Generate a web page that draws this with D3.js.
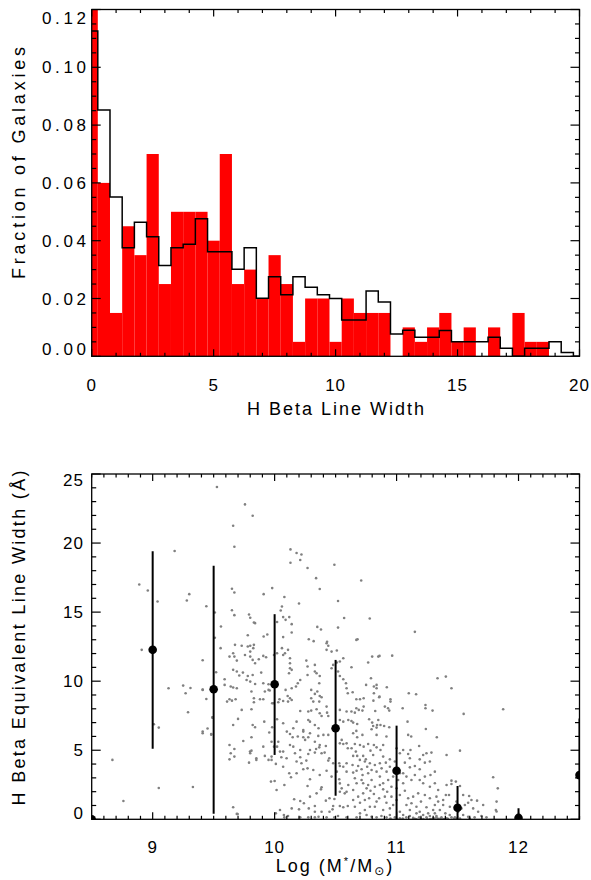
<!DOCTYPE html>
<html><head><meta charset="utf-8">
<script src="https://cdn.jsdelivr.net/npm/d3@7"></script>
<style>html,body{margin:0;padding:0;background:#fff;}svg{display:block;}</style>
</head><body>
<script>
// ---------- DATA ----------
const binCenters = d3.range(0, 20.01, 0.5);
const redFractions = [0.12,0.06,0.015,0.045,0.035,0.07,0.025,0.05,0.05,0.05,0.04,0.07,0.025,0.03,0.02,0.035,0.025,0.005,0.02,0.02,0.005,0.02,0.015,0.015,0.015,0,0.01,0.005,0.01,0.015,0.005,0.01,0,0.01,0,0.015,0.005,0.005,0,0,0];
const allFractions = [0.1126,0.0852,0.0551,0.0376,0.0464,0.0414,0.0314,0.0376,0.0388,0.0476,0.0362,0.0362,0.0301,0.0376,0.0201,0.0275,0.0213,0.0275,0.0239,0.0213,0.02,0.0126,0.0126,0.0226,0.0188,0.0077,0.009,0.0066,0.0066,0.0089,0.005,0.005,0.005,0.0066,0.0028,0,0.0028,0.0028,0.005,0.0013,0];
const topXTicks = [0,5,10,15,20];
const topYTicks = [0,0.02,0.04,0.06,0.08,0.10,0.12];

const binMass = [8.5,9.0,9.5,10.0,10.5,11.0,11.5,12.0,12.5];
const binMedian = [0,12.27,9.42,9.78,6.59,3.52,0.84,0.1,3.2];
const binHigh = [0,19.4,18.35,14.85,11.54,6.78,2.41,0.8,7.3];
const binLow = [0,5.1,0.4,4.66,1.71,0,0,0,-1];
const botXTicks = [9,10,11,12];
const botYTicks = [0,5,10,15,20,25];

const galaxyPoints = [
[9.527,24.06],[9.757,22.8],[9.82,21.98],[9.66,21.25],[9.67,19.73],[9.18,19.42],[10.13,19.54],[10.18,19.28],[10.22,19.17],[10.13,18.57],[10.21,18.77],[10.27,18.19],[10.49,18.43],[10.34,17.46],[10.71,17.29],[10.37,16.67],[8.89,17.0],[8.96,16.57],[9.04,15.77],[9.28,15.84],[9.30,16.3],[9.44,15.43],[9.65,16.69],[9.67,16.42],[9.91,16.3],[9.98,16.74],[10.08,16.09],[10.20,15.62],[10.52,15.8],[9.65,15.14],[9.67,14.78],[9.51,14.97],[9.56,13.96],[9.51,13.14],[9.79,14.83],[9.80,14.59],[9.83,14.25],[9.84,14.2],[9.78,13.33],[9.91,13.23],[9.94,13.38],[10.02,14.28],[10.05,15.12],[10.06,15.41],[10.07,14.64],[10.09,14.44],[10.12,14.64],[10.14,14.13],[10.14,13.52],[10.07,13.19],[10.28,13.04],[10.32,12.9],[10.35,13.93],[10.38,13.74],[10.43,12.85],[10.52,13.88],[10.57,14.57],[10.68,13.04],[10.78,14.54],[11.15,13.57],
[8.91,12.27],[9.13,9.49],[9.25,9.68],[9.27,9.13],[9.31,9.51],[9.29,7.75],[9.01,6.88],[9.05,6.64],[8.67,4.3],[9.05,2.27],[8.76,1.33],[9.33,2.34],[9.41,11.52],[9.41,9.39],[9.41,6.23],[9.45,6.57],[9.48,6.13],[9.49,7.36],
[9.557,12.39],[9.675,12.63],[9.73,12.56],[9.78,12.51],[9.80,12.56],[9.83,12.63],[9.825,12.39],[9.66,12.02],[9.63,11.78],[9.67,11.78],[9.757,11.9],[9.80,12.14],[9.80,11.78],[9.82,11.54],[9.84,11.30],[9.87,11.59],[9.907,11.83],[9.93,11.73],[9.69,11.49],[9.52,10.65],[9.66,10.82],[9.69,10.7],[9.74,10.62],[9.71,10.41],[9.78,10.38],[9.82,10.45],[9.89,10.62],[9.80,9.97],[9.77,10.09],[9.59,10.14],[9.59,9.73],[9.64,9.61],[9.66,9.54],[9.69,9.49],[9.84,9.8],[9.907,9.85],[9.95,9.78],[9.44,8.71],[9.41,9.37],[9.61,8.52],[9.63,8.69],[9.65,8.59],[9.68,8.69],[9.73,7.92],[9.81,9.25],[9.83,8.76],[9.83,8.47],[9.88,8.69],[9.907,8.69],[9.92,9.25],[9.95,9.37],[9.96,9.32],[9.98,8.40],[9.81,7.97],[9.70,7.27],[9.66,6.83],[9.915,7.07],[9.82,6.83],[9.84,6.66],[9.98,6.66],[10.02,7.24],[9.49,7.39],
[9.995,11.9],[10.02,12.02],[10.06,12.39],[10.07,11.9],[10.085,12.02],[10.11,12.27],[10.126,11.66],[10.126,11.3],[10.126,10.94],[10.14,10.82],[10.118,10.57],[10.26,11.49],[10.27,11.06],[10.33,11.18],[10.33,10.7],[10.344,10.57],[10.37,10.38],[10.366,9.85],[10.27,10.45],[10.21,10.09],[10.19,9.85],[10.175,9.61],[10.14,9.49],[10.426,12.75],[10.44,12.56],[10.426,12.27],[10.467,12.14],[10.51,12.22],[10.563,11.66],[10.535,11.42],[10.51,11.35],[10.48,11.18],[10.467,10.94],[10.52,10.7],[10.535,10.38],[10.563,10.14],[10.585,9.85],[10.59,9.49],[10.6,9.13],[10.09,9.37],[10.107,8.93],[10.126,8.76],[10.14,8.64],[10.11,8.52],[10.07,8.57],[10.04,8.69],[10.03,8.47],[9.99,8.40],[10.3,9.37],[10.35,9.25],[10.33,9.08],[10.37,8.93],[10.3,8.76],[10.317,8.52],[10.366,8.52],[10.385,8.84],[10.21,7.84],[10.276,7.8],[10.3,7.87],[10.344,7.97],[10.37,7.68],[10.426,8.16],[10.43,7.72],[10.44,7.48],[10.385,7.48],[10.07,6.95],[10.18,7.07],[10.276,7.19],[10.29,7.07],[10.33,6.83],[10.36,6.59],[10.235,6.47],[10.153,6.59],[10.535,7.92],[10.535,7.19],[10.563,7.07],[10.59,7.8],[10.604,7.19],
[10.67,12.99],[10.80,11.78],[10.85,11.78],[10.86,11.83],[10.964,11.85],[10.767,11.35],[10.63,11.01],[10.79,10.21],[10.75,9.73],[10.814,9.61],[10.836,9.73],[10.836,9.49],[10.92,9.56],[10.64,9.2],[10.814,9.13],[10.86,8.88],[10.857,8.84],[10.95,8.69],[10.95,8.52],[10.81,8.59],[10.67,8.69],[10.70,8.69],[10.73,8.76],[11.1,9.13],[11.16,9.05],[11.336,10.21],[11.404,10.33],[11.45,9.49],[10.67,8.04],[10.69,7.92],[10.72,7.87],[10.73,8.16],[10.825,7.84],[10.904,8.16],[10.93,8.04],[10.94,7.87],[11.05,8.04],[11.237,8.28],[11.237,8.04],[11.295,7.87],[11.55,7.63],[10.63,7.8],[10.658,7.72],[10.63,7.12],[10.644,7.0],[10.677,6.9],[10.775,7.24],[10.8,7.0],[10.808,6.76],[10.85,7.19],[10.84,6.83],[10.868,6.83],[10.898,6.76],[10.94,6.66],[10.795,6.52],[10.836,6.64],[11.09,7.07],[11.24,6.54],[10.67,6.4],[11.874,7.97],
[9.48,6.18],[9.41,6.35],[9.743,5.67],[9.81,5.94],[9.63,5.38],[9.67,5.09],[9.63,4.34],[9.67,4.54],[9.79,4.1],[9.80,4.78],[9.798,4.9],[9.81,4.97],[9.85,4.42],[9.85,4.3],[9.907,5.26],[9.92,4.59],[9.95,4.3],[9.975,4.54],[9.975,4.3],[10.01,4.01],[9.956,6.28],[9.975,5.62],[9.995,5.26],[10.03,5.62],[10.02,5.26],[10.044,4.9],[10.07,4.9],[10.055,4.49],[10.1,6.35],[10.126,6.18],[10.148,5.94],[10.19,5.99],[10.235,6.35],[10.235,5.94],[10.25,5.75],[10.276,5.94],[10.126,5.38],[10.153,5.26],[10.21,4.49],[10.18,4.18],[10.22,4.06],[10.235,3.62],[10.27,3.69],[10.26,4.25],[10.276,4.73],[10.29,5.02],[10.33,4.83],[10.34,5.09],[10.366,5.21],[10.385,4.78],[10.37,5.38],[10.358,6.04],[10.4,6.11],[10.44,6.11],[10.42,5.31],[10.44,4.25],[10.448,4.42],[10.41,4.83],[10.426,3.52],[10.48,4.06],[10.535,5.5],[10.55,5.75],[10.563,5.45],[10.59,5.5],[10.6,5.14],[10.53,4.06],[10.535,3.86],[10.563,3.81],[10.59,4.06],[10.59,3.45],[10.604,2.48],[10.53,2.9],[10.535,2.6],[10.55,2.24],[10.535,2.0],[10.59,2.0],[10.575,1.88],[10.12,3.33],[10.134,3.04],[10.08,2.48],[9.97,2.73],[10.0,2.77],[10.29,2.9],[10.27,2.41],[10.385,2.32],[10.38,2.17],[10.42,1.35],[10.45,1.52],[10.49,1.47],[10.16,1.45],[10.21,1.32],[10.24,1.16],[10.2,0.72],[10.28,0.79],[10.33,0.96],[10.48,0.96],[10.475,0.72],[10.535,0.96],[10.563,0.87],[10.6,0.96],[10.385,0.55],[10.45,0.55],[9.66,0.87],[9.697,0.38],[10.01,0.43],[10.076,0.31],[10.11,0.24],[10.08,0.14],[10.276,0.14],[10.33,0.14],[10.36,0.19],[10.426,0.14],[10.49,0.14],[10.52,0.24],[10.59,0.14],[10.21,0.14],[9.64,4.78],[9.69,0.39],
[10.29,6.23],[10.33,5.62],[10.21,5.02],[10.167,4.78],[10.098,4.42],[10.07,3.81],[10.18,3.33],[10.317,3.57],[10.37,3.21],[10.467,3.09],[10.51,3.45],[10.344,1.88],[10.29,1.64],[10.33,0.55],[10.14,0.79],[10.044,0.67],[10.016,2.12],
[10.644,6.23],[10.72,6.11],[10.677,5.94],[10.836,6.11],[10.917,5.99],[11.095,6.11],[11.12,5.99],[11.33,5.94],[10.658,5.45],[10.7,5.38],[10.73,5.26],[10.767,5.45],[10.814,5.38],[10.836,5.21],[10.868,5.02],[10.786,4.97],[10.89,5.38],[11.0,5.14],[11.054,5.02],[11.114,5.02],[11.185,5.31],[11.027,4.78],[11.095,4.73],[10.945,4.34],[10.986,4.18],[10.644,4.59],[10.677,4.59],[10.726,4.59],[10.748,4.34],[10.808,4.66],[10.89,4.54],[10.912,4.1],[10.863,4.06],[10.822,3.93],[10.759,3.81],[10.713,3.62],[10.672,3.52],[10.644,3.38],[11.109,4.42],[11.068,4.1],[11.109,3.76],[11.054,3.33],[11.15,3.86],[11.19,4.34],[11.218,4.66],[11.245,4.78],[11.286,4.83],[11.273,4.18],[11.232,4.1],[11.314,3.45],[11.278,3.21],[11.232,3.09],[11.19,3.62],[11.41,4.66],[11.52,4.97],[11.792,3.04],[11.83,2.24],[11.41,2.48],[11.45,2.56],[11.45,2.8],[11.486,2.73],[11.52,2.41],[11.43,1.76],[11.404,1.76],[11.546,1.76],[11.595,1.69],[11.614,1.4],[11.66,1.35],[11.71,1.04],[11.587,1.2],[11.56,1.04],[11.814,0.67],[11.505,0.55],[11.436,0.31],[10.672,2.61],[10.644,2.12],[10.726,2.61],[10.754,2.24],[10.786,2.07],[10.814,1.83],[10.775,1.52],[10.74,1.4],[10.7,1.2],[10.658,0.91],[10.863,2.48],[10.89,2.17],[10.923,2.0],[10.857,1.52],[10.958,1.64],[10.917,1.2],[10.972,1.04],[10.822,0.91],[10.89,0.67],[11.054,2.61],[11.068,2.07],[11.027,1.76],[11.095,1.52],[11.122,1.16],[11.163,0.91],[11.2,1.28],[11.245,0.87],[11.314,1.04],[11.3,0.67],[11.355,0.67],[11.4,0.43],[11.013,2.85],[11.027,0.55],[11.054,0.31],[11.109,0.24],[11.163,0.43],[11.218,0.31],[11.273,0.24],[11.327,0.24],[10.7,0.43],[10.754,0.31],[10.795,0.19],[10.876,0.24],[10.945,0.31],[10.986,0.14],[10.672,0.14],[11.546,0.31],[11.587,0.19],[11.64,0.14],[11.696,0.24],[11.737,0.14],[11.368,0.14],[11.41,0.07],[11.45,0.14],[11.478,0.14],[11.245,0.14],[11.185,0.14],[11.136,0.1],[11.08,0.14],[11.3,0.07],[11.327,0.14],[10.917,0.14],[10.836,0.14],[11.82,1.28],[11.82,0.56],
[10.631,5.14],[10.666,4.9],[10.699,4.3],[10.74,4.18],[10.781,4.06],[10.639,3.93],[10.685,3.86],[10.721,3.21],[10.767,3.33],[10.795,3.57],[10.836,3.45],[10.877,3.69],[10.918,3.45],[10.945,3.81],[10.972,3.09],[11.0,2.24],[11.027,3.33],[11.081,3.09],[11.122,2.85],[11.15,3.21],[11.19,2.85],[11.218,2.61],[11.273,2.36],[11.314,2.61],[11.341,2.12],[11.327,1.64],[11.273,1.52],[11.232,1.76],[11.177,1.88],[11.136,1.64],[11.081,1.04],[11.0,1.4],[10.945,0.79],[10.904,1.64],[10.836,1.28],[10.781,0.91],[10.74,0.67],[10.685,1.64],[10.644,1.4],[10.726,1.88],[10.795,2.85],[10.863,3.09],[10.931,2.85],[10.958,2.36],[10.89,2.61],[10.822,2.36],[10.767,2.48],[10.713,2.85],[10.658,2.97],[11.109,0.67],[11.19,0.55],[11.259,0.43],[11.314,0.43],[11.382,1.04],[11.437,0.91],[11.491,1.28],[11.532,0.79],[11.628,0.79],[11.669,0.55],[11.382,1.4],[11.341,1.28],[11.027,0.07],[11.163,0.0],[11.273,0.0],[11.382,0.0],[11.491,0.05],[11.6,0.05],
[11.2,0.05],[11.22,0.02],[11.25,0.04],[11.28,0.02],[11.31,0.05],[11.34,0.03],[11.36,0.06],[11.39,0.02],[11.15,0.03],[11.05,0.05],[11.0,0.03],[10.95,0.06],[11.42,0.04],[11.47,0.03],[11.52,0.05],[11.6,0.03]
];

// ---------- LAYOUT ----------
const W = 591, H = 880;
const FONT = "'Liberation Sans', Arial, sans-serif";
const FS = 17;
const svg = d3.select("body").append("svg").attr("width", W).attr("height", H)
  .style("font-family", FONT);
svg.append("rect").attr("width", W).attr("height", H).attr("fill", "#fff");

function frameAxes(g, x, y, xMajor, xMinor, yMajor, yMinor, xLen, yLen) {
  const [x0, x1] = x.range(), [y0, y1] = y.range();
  const ticks = g.append("g").attr("stroke", "#000").attr("stroke-width", 1.2);
  xMinor.forEach(v => {
    const L = xMajor.some(m => Math.abs(m - v) < 1e-9) ? xLen : xLen / 2;
    ticks.append("line").attr("x1", x(v)).attr("x2", x(v)).attr("y1", y0).attr("y2", y0 - L);
    ticks.append("line").attr("x1", x(v)).attr("x2", x(v)).attr("y1", y1).attr("y2", y1 + L);
  });
  yMinor.forEach(v => {
    const L = yMajor.some(m => Math.abs(m - v) < 1e-9) ? yLen : yLen / 2;
    ticks.append("line").attr("y1", y(v)).attr("y2", y(v)).attr("x1", x0).attr("x2", x0 + L);
    ticks.append("line").attr("y1", y(v)).attr("y2", y(v)).attr("x1", x1).attr("x2", x1 - L);
  });
  g.append("rect").attr("x", x0).attr("y", y1).attr("width", x1 - x0).attr("height", y0 - y1)
    .attr("fill", "none").attr("stroke", "#000").attr("stroke-width", 1.3);
}

// ---------- TOP: histogram ----------
const xTop = d3.scaleLinear().domain([0, 20]).range([91.7, 579.5]);
const yTop = d3.scaleLinear().domain([0, 0.12]).range([356.3, 9.5]);
const gTop = svg.append("g");
gTop.append("clipPath").attr("id", "clipTop").append("rect")
  .attr("x", 91.7).attr("y", 9.5).attr("width", 579.5 - 91.7).attr("height", 356.3 - 9.5);
const topPlot = gTop.append("g").attr("clip-path", "url(#clipTop)");
const bins = binCenters.map((c, i) => ({
  lo: Math.max(0, c - 0.25), hi: Math.min(20, c + 0.25), red: redFractions[i], all: allFractions[i]
}));
topPlot.selectAll("rect.bar").data(bins.filter(b => b.red > 0)).join("rect")
  .attr("x", d => xTop(d.lo)).attr("width", d => xTop(d.hi) - xTop(d.lo))
  .attr("y", d => yTop(d.red)).attr("height", d => yTop(0) - yTop(d.red))
  .attr("fill", "#ff0000");
const stepPts = [];
bins.forEach(b => { stepPts.push([b.lo, b.all]); stepPts.push([b.hi, b.all]); });
topPlot.append("path").datum(stepPts)
  .attr("d", d3.line().x(d => xTop(d[0])).y(d => yTop(d[1])))
  .attr("fill", "none").attr("stroke", "#000").attr("stroke-width", 1.5);
frameAxes(gTop, xTop, yTop, topXTicks, d3.range(0, 20.01, 1),
  topYTicks, d3.range(0, 0.1201, 0.005), 7, 9);
gTop.selectAll("text.xt").data(topXTicks).join("text")
  .attr("x", d => xTop(d)).attr("y", 391).attr("text-anchor", "middle")
  .attr("font-size", FS).attr("letter-spacing", 1).text(d => d);
gTop.selectAll("text.yt").data(topYTicks).join("text")
  .attr("x", 86).attr("y", (d, i) => {
    let yy = yTop(d);
    if (i === 0) yy -= 7; if (i === topYTicks.length - 1) yy += 8;
    return yy + 6;
  })
  .attr("text-anchor", "end").attr("font-size", FS)
  .attr("textLength", 44).attr("lengthAdjust", "spacing").text(d => d.toFixed(2));
gTop.append("text").attr("x", 335.5).attr("y", 415).attr("text-anchor", "middle")
  .attr("font-size", 18).attr("textLength", 177).attr("lengthAdjust", "spacing")
  .text("H Beta Line Width");
gTop.append("text").attr("transform", "translate(25,163) rotate(-90)")
  .attr("text-anchor", "middle").attr("font-size", 18)
  .attr("textLength", 232).attr("lengthAdjust", "spacing").text("Fraction of Galaxies");

// ---------- BOTTOM: scatter ----------
const xBot = d3.scaleLinear().domain([8.5, 12.5]).range([91.7, 579.5]);
const yBot = d3.scaleLinear().domain([0, 25]).range([819.3, 474]);
const gBot = svg.append("g");
gBot.append("clipPath").attr("id", "clipBot").append("rect")
  .attr("x", 91.7).attr("y", 474).attr("width", 579.5 - 91.7).attr("height", 819.3 - 474);
const botPlot = gBot.append("g").attr("clip-path", "url(#clipBot)");
botPlot.selectAll("circle.pt").data(galaxyPoints).join("circle")
  .attr("cx", d => xBot(d[0])).attr("cy", d => yBot(d[1])).attr("r", 1.3)
  .attr("fill", "#808080");
const bin = binMass.map((m, i) => ({ m, med: binMedian[i], hi: binHigh[i], lo: binLow[i] }));
botPlot.selectAll("line.err").data(bin).join("line")
  .attr("x1", d => xBot(d.m)).attr("x2", d => xBot(d.m))
  .attr("y1", d => yBot(d.lo)).attr("y2", d => yBot(d.hi))
  .attr("stroke", "#000").attr("stroke-width", 2);
botPlot.selectAll("circle.med").data(bin).join("circle")
  .attr("cx", d => xBot(d.m)).attr("cy", d => yBot(d.med)).attr("r", 4.3).attr("fill", "#000");
frameAxes(gBot, xBot, yBot, botXTicks, d3.range(85, 125.01, 1).map(v => v / 10),
  botYTicks, d3.range(0, 25.01, 1), 7, 9);
gBot.selectAll("text.xt").data(botXTicks).join("text")
  .attr("x", d => xBot(d)).attr("y", 853).attr("text-anchor", "middle")
  .attr("font-size", FS).attr("letter-spacing", 1).text(d => d);
gBot.selectAll("text.yt").data(botYTicks).join("text")
  .attr("x", 84).attr("y", (d, i) => {
    let yy = yBot(d);
    if (i === 0) yy -= 6; if (i === botYTicks.length - 1) yy += 6;
    return yy + 6;
  })
  .attr("text-anchor", "end").attr("font-size", FS).attr("letter-spacing", 1).text(d => d);
const xl = gBot.append("text").attr("x", 335).attr("y", 872).attr("text-anchor", "middle")
  .attr("font-size", 18).attr("letter-spacing", 2);
xl.append("tspan").text("Log (M");
xl.append("tspan").attr("dy", -7).attr("font-size", 11).text("*");
xl.append("tspan").attr("dy", 7).text("/M");
xl.append("tspan").attr("dy", 3).attr("font-size", 12).attr("font-family", "'DejaVu Sans'").text("\u2299");
xl.append("tspan").attr("dy", -3).text(")");
gBot.append("text").attr("transform", "translate(25,638) rotate(-90)")
  .attr("text-anchor", "middle").attr("font-size", 18)
  .attr("textLength", 335).attr("lengthAdjust", "spacing")
  .text("H Beta Equivalent Line Width (\u00C5)");
</script>
</body></html>
